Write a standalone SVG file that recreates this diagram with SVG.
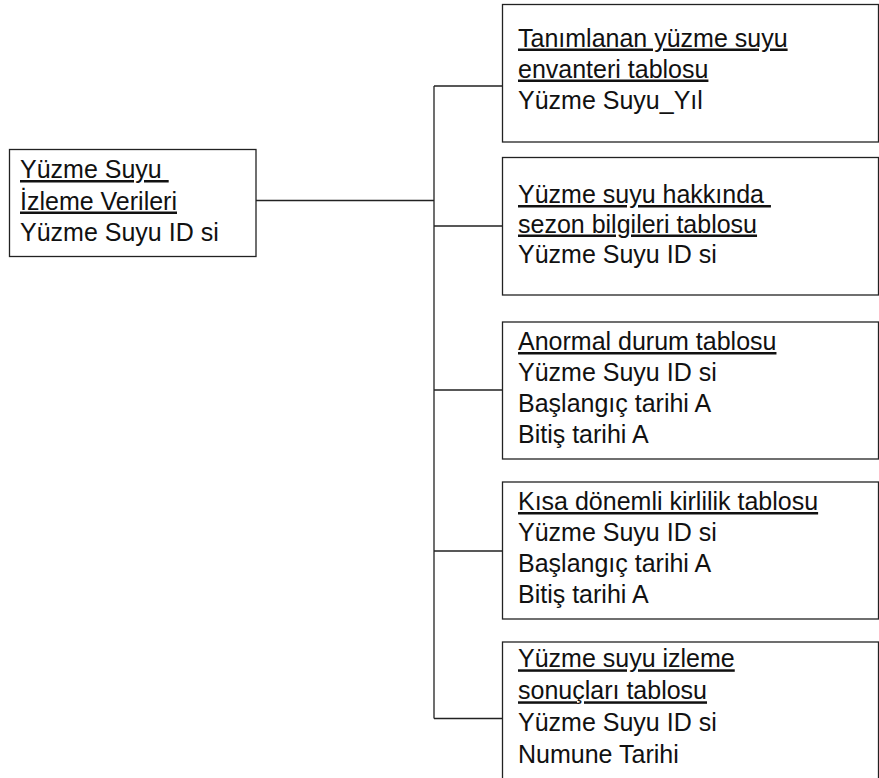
<svg xmlns="http://www.w3.org/2000/svg" width="879" height="778" viewBox="0 0 879 778">
  <style>
    .box { fill: #fff; stroke: #222; stroke-width: 1.3; }
    .wire { fill: none; stroke: #222; stroke-width: 1.3; }
    text { font-family: "Liberation Sans", Arial, sans-serif; font-size: 25px; fill: #111; white-space: pre; }
    .u { text-decoration: underline; text-decoration-thickness: 1.3px; text-underline-offset: 3.5px; }
  </style>
  <rect width="879" height="778" fill="#fff"/>

  <g id="connectors">
    <path class="wire" d="M256 200.5 H434 M434 86 V718.5 M434 86 H502.5 M434 226 H502.5 M434 390 H502.5 M434 551 H502.5 M434 718.5 H502.5"/>
  </g>

  <g id="monitoring-data">
    <rect class="box" x="9.5" y="149.5" width="246.5" height="107"/>
    <text x="20" y="178" class="u" xml:space="preserve">Yüzme Suyu </text>
    <text x="20" y="209.5" class="u">İzleme Verileri</text>
    <text x="20" y="241">Yüzme Suyu ID si</text>
  </g>

  <g id="inventory-table">
    <rect class="box" x="502.5" y="4.5" width="376" height="137.5"/>
    <text x="518" y="46.5" class="u">Tanımlanan yüzme suyu</text>
    <text x="518" y="77.5" class="u">envanteri tablosu</text>
    <text x="518" y="108.5">Yüzme Suyu_Yıl</text>
  </g>

  <g id="season-table">
    <rect class="box" x="502.5" y="157.5" width="376" height="137.5"/>
    <text x="518" y="203" class="u" xml:space="preserve">Yüzme suyu hakkında </text>
    <text x="518" y="232.5" class="u">sezon bilgileri tablosu</text>
    <text x="518" y="263">Yüzme Suyu ID si</text>
  </g>

  <g id="abnormal-table">
    <rect class="box" x="502.5" y="322" width="376" height="137"/>
    <text x="518" y="350" class="u">Anormal durum tablosu</text>
    <text x="518" y="381.3">Yüzme Suyu ID si</text>
    <text x="518" y="412">Başlangıç tarihi A</text>
    <text x="518" y="443.3">Bitiş tarihi A</text>
  </g>

  <g id="pollution-table">
    <rect class="box" x="502.5" y="482" width="376" height="137"/>
    <text x="518" y="510" class="u">Kısa dönemli kirlilik tablosu</text>
    <text x="518" y="541.3">Yüzme Suyu ID si</text>
    <text x="518" y="572">Başlangıç tarihi A</text>
    <text x="518" y="603.3">Bitiş tarihi A</text>
  </g>

  <g id="results-table">
    <rect class="box" x="502.5" y="642" width="376" height="150"/>
    <text x="518" y="667.3" class="u">Yüzme suyu izleme</text>
    <text x="518" y="699.3" class="u">sonuçları tablosu</text>
    <text x="518" y="731.3">Yüzme Suyu ID si</text>
    <text x="518" y="762.5">Numune Tarihi</text>
  </g>
</svg>
